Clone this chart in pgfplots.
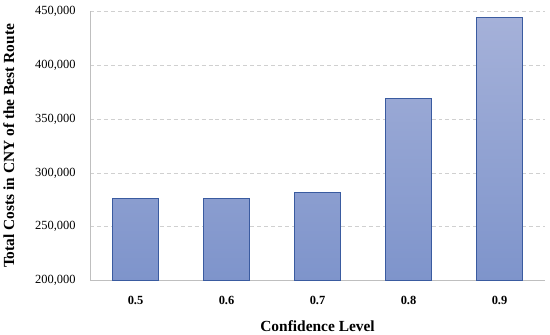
\documentclass[border=0pt]{standalone}
\usepackage{pgfplots}
\pgfplotsset{compat=1.18}
\usepackage{fontspec}
\setmainfont{Liberation Serif}
\definecolor{bartop}{HTML}{A5B1D9}
\definecolor{barbot}{HTML}{7E94CB}
\definecolor{barline}{HTML}{3A5BA0}
\definecolor{gridc}{HTML}{D0D0D0}
\definecolor{axc}{HTML}{BFBFBF}
\begin{document}
\begin{tikzpicture}
\begin{axis}[
  scale only axis,
  width=457pt, height=271pt,
  clip=false,
  ymin=200000, ymax=450000,
  ytick={200000,250000,300000,350000,400000,450000},
  scaled y ticks=false,
  xmin=-0.5, xmax=4.5,
  xtick={0,1,2,3,4},
  xticklabels={0.5,0.6,0.7,0.8,0.9},
  axis x line*=bottom, axis y line*=left,
  axis line style={axc, line width=0.8pt},
  x axis line style={-}, y axis line style={-},
  major tick length=0pt,
  ymajorgrids,
  grid style={gridc, dash pattern=on 4pt off 3pt, line width=0.6pt},
  /pgf/number format/fixed,
  /pgf/number format/1000 sep={,},
  /pgf/number format/assume math mode=true,
  yticklabel style={font=\fontsize{12.5}{14}\selectfont, xshift=-11pt},
  xticklabel style={font=\bfseries\fontsize{12.5}{14}\selectfont, yshift=-12pt},
  xlabel={\bfseries Confidence Level},
  ylabel={\bfseries Total Costs in CNY of the Best Route},
  label style={font=\bfseries\fontsize{15.5}{17}\selectfont},
  xlabel style={yshift=-9pt},
  ylabel style={yshift=14pt},
]
\addplot[ybar, bar width=46pt, draw=barline, line width=1pt,
  top color=bartop, bottom color=barbot]
  coordinates {(0,275800) (1,275900) (2,281900) (3,368800) (4,444100)};
\path (rel axis cs:0,0) ++(-88pt,-52pt);
\path (rel axis cs:1,1) ++(5pt,11pt);
\end{axis}
\end{tikzpicture}
\end{document}
